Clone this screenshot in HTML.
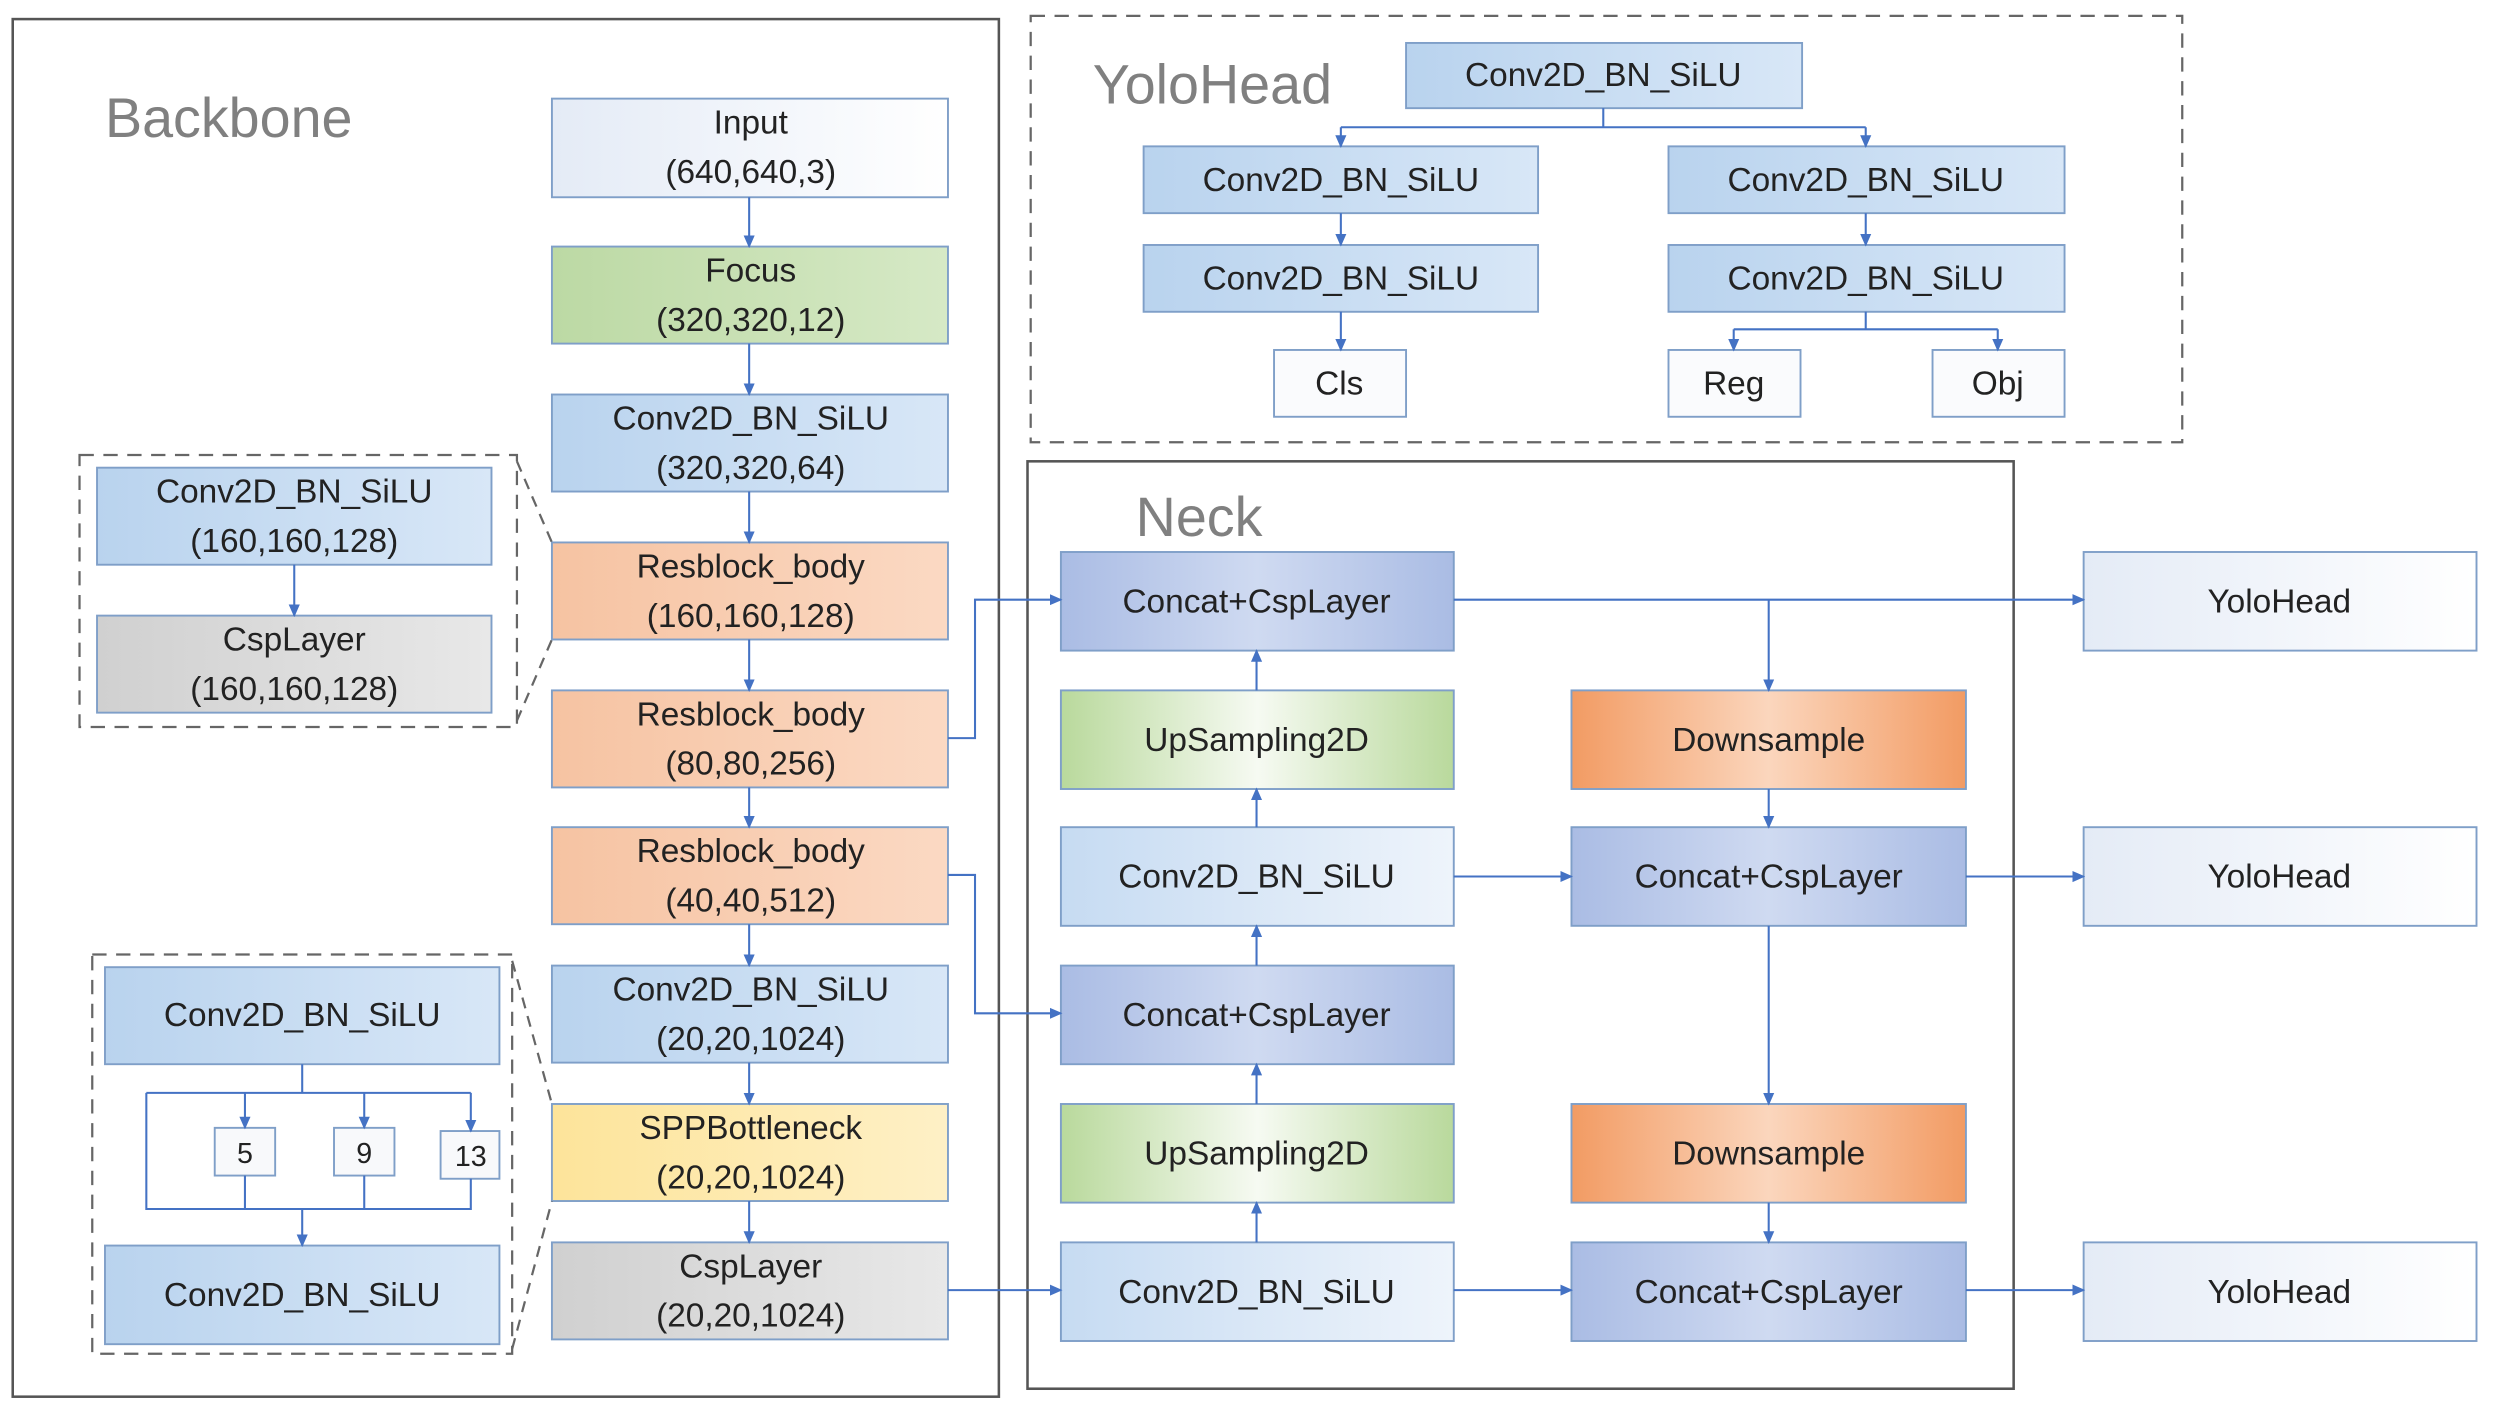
<!DOCTYPE html>
<html><head><meta charset="utf-8"><style>
html,body{margin:0;padding:0;background:#fff;}
svg{display:block;}
text{font-family:"Liberation Sans",sans-serif;fill:#222;}
</style></head><body>
<svg width="2494" height="1411" viewBox="0 0 1568 887" preserveAspectRatio="none" xmlns="http://www.w3.org/2000/svg">
<defs>
<linearGradient id="gb" x1="0" y1="0" x2="1" y2="0"><stop offset="0" stop-color="#b9d3ee"/><stop offset="1" stop-color="#d8e7f7"/></linearGradient>
<linearGradient id="gbn" x1="0" y1="0" x2="1" y2="0"><stop offset="0" stop-color="#c6dbf2"/><stop offset="1" stop-color="#eef4fb"/></linearGradient>
<linearGradient id="gg" x1="0" y1="0" x2="1" y2="0"><stop offset="0" stop-color="#bcd9a4"/><stop offset="1" stop-color="#d6e9c6"/></linearGradient>
<linearGradient id="gg2" x1="0" y1="0" x2="1" y2="0"><stop offset="0" stop-color="#b9d99c"/><stop offset="0.5" stop-color="#f6faf2"/><stop offset="1" stop-color="#b9d99c"/></linearGradient>
<linearGradient id="go" x1="0" y1="0" x2="1" y2="0"><stop offset="0" stop-color="#f6c3a2"/><stop offset="1" stop-color="#fbd9c3"/></linearGradient>
<linearGradient id="go2" x1="0" y1="0" x2="1" y2="0"><stop offset="0" stop-color="#f29b63"/><stop offset="0.5" stop-color="#fbd6bd"/><stop offset="1" stop-color="#f29b63"/></linearGradient>
<linearGradient id="gy" x1="0" y1="0" x2="1" y2="0"><stop offset="0" stop-color="#fde49a"/><stop offset="1" stop-color="#fef0c6"/></linearGradient>
<linearGradient id="gr" x1="0" y1="0" x2="1" y2="0"><stop offset="0" stop-color="#d0d0d0"/><stop offset="1" stop-color="#e8e8e8"/></linearGradient>
<linearGradient id="gp" x1="0" y1="0" x2="1" y2="0"><stop offset="0" stop-color="#aabce4"/><stop offset="0.5" stop-color="#cfdaf1"/><stop offset="1" stop-color="#aabce4"/></linearGradient>
<linearGradient id="gw" x1="0" y1="0" x2="1" y2="0"><stop offset="0" stop-color="#e4ebf6"/><stop offset="1" stop-color="#ffffff"/></linearGradient>
<marker id="a" markerWidth="8" markerHeight="8" refX="7" refY="4" orient="auto" markerUnits="userSpaceOnUse"><path d="M0,0.5 L8,4 L0,7.5z" fill="#4472c4"/></marker>
</defs>

<!-- containers -->
<rect x="8" y="12" width="620" height="866" fill="none" stroke="#555" stroke-width="1.6"/>
<rect x="648" y="10" width="724" height="268" fill="none" stroke="#666" stroke-width="1.4" stroke-dasharray="9,6"/>
<rect x="646" y="290" width="620" height="583" fill="none" stroke="#555" stroke-width="1.6"/>
<text x="66" y="86" font-size="35" style="fill:#808080">Backbone</text>
<text x="687" y="65" font-size="35" style="fill:#808080">YoloHead</text>
<text x="714" y="337" font-size="35" style="fill:#808080">Neck</text>

<g stroke="#7f9fc8" stroke-width="1.2">
<rect x="347" y="62" width="249" height="62" fill="url(#gw)"/>
<rect x="347" y="155" width="249" height="61" fill="url(#gg)"/>
<rect x="347" y="248" width="249" height="61" fill="url(#gb)"/>
<rect x="347" y="341" width="249" height="61" fill="url(#go)"/>
<rect x="347" y="434" width="249" height="61" fill="url(#go)"/>
<rect x="347" y="520" width="249" height="61" fill="url(#go)"/>
<rect x="347" y="607" width="249" height="61" fill="url(#gb)"/>
<rect x="347" y="694" width="249" height="61" fill="url(#gy)"/>
<rect x="347" y="781" width="249" height="61" fill="url(#gr)"/>

<rect x="61" y="294" width="248" height="61" fill="url(#gb)"/>
<rect x="61" y="387" width="248" height="61" fill="url(#gr)"/>
<rect x="66" y="608" width="248" height="61" fill="url(#gb)"/>
<rect x="66" y="783" width="248" height="62" fill="url(#gb)"/>
<rect x="135" y="709" width="38" height="30" fill="#f8f9fb"/>
<rect x="210" y="709" width="38" height="30" fill="#f8f9fb"/>
<rect x="277" y="711" width="37" height="30" fill="#f8f9fb"/>

<rect x="884" y="27" width="249" height="41" fill="url(#gb)"/>
<rect x="719" y="92" width="248" height="42" fill="url(#gb)"/>
<rect x="719" y="154" width="248" height="42" fill="url(#gb)"/>
<rect x="801" y="220" width="83" height="42" fill="#fafbfd"/>
<rect x="1049" y="92" width="249" height="42" fill="url(#gb)"/>
<rect x="1049" y="154" width="249" height="42" fill="url(#gb)"/>
<rect x="1049" y="220" width="83" height="42" fill="#fafbfd"/>
<rect x="1215" y="220" width="83" height="42" fill="#fafbfd"/>

<rect x="667" y="347" width="247" height="62" fill="url(#gp)"/>
<rect x="667" y="434" width="247" height="62" fill="url(#gg2)"/>
<rect x="667" y="520" width="247" height="62" fill="url(#gbn)"/>
<rect x="667" y="607" width="247" height="62" fill="url(#gp)"/>
<rect x="667" y="694" width="247" height="62" fill="url(#gg2)"/>
<rect x="667" y="781" width="247" height="62" fill="url(#gbn)"/>
<rect x="988" y="434" width="248" height="62" fill="url(#go2)"/>
<rect x="988" y="520" width="248" height="62" fill="url(#gp)"/>
<rect x="988" y="694" width="248" height="62" fill="url(#go2)"/>
<rect x="988" y="781" width="248" height="62" fill="url(#gp)"/>
<rect x="1310" y="347" width="247" height="62" fill="url(#gw)"/>
<rect x="1310" y="520" width="247" height="62" fill="url(#gw)"/>
<rect x="1310" y="781" width="247" height="62" fill="url(#gw)"/>
</g>

<!-- dashed detail boxes -->
<g fill="none" stroke="#666" stroke-width="1.4" stroke-dasharray="9,6">
<rect x="50" y="286" width="275" height="171"/>
<rect x="58" y="600" width="264" height="251"/>
<path d="M325,290 L347,341 M325,453 L347,402 M322,604 L347,694 M322,848 L347,755" stroke-dasharray="7,5"/>
</g>

<!-- connectors -->
<g fill="none" stroke="#4472c4" stroke-width="1.3">
<path d="M471,124V155" marker-end="url(#a)"/>
<path d="M471,216V248" marker-end="url(#a)"/>
<path d="M471,309V341" marker-end="url(#a)"/>
<path d="M471,402V434" marker-end="url(#a)"/>
<path d="M471,495V520" marker-end="url(#a)"/>
<path d="M471,581V607" marker-end="url(#a)"/>
<path d="M471,668V694" marker-end="url(#a)"/>
<path d="M471,755V781" marker-end="url(#a)"/>
<path d="M185,355V387" marker-end="url(#a)"/>
<path d="M190,669V687 M92,687H296 M92,687V760H296V741 M154,739V760 M229,739V760"/>
<path d="M154,687V709" marker-end="url(#a)"/>
<path d="M229,687V709" marker-end="url(#a)"/>
<path d="M296,687V711" marker-end="url(#a)"/>
<path d="M190,760V783" marker-end="url(#a)"/>

<path d="M1008,68V80 M843,80H1173"/>
<path d="M843,80V92" marker-end="url(#a)"/>
<path d="M1173,80V92" marker-end="url(#a)"/>
<path d="M843,134V154" marker-end="url(#a)"/>
<path d="M1173,134V154" marker-end="url(#a)"/>
<path d="M843,196V220" marker-end="url(#a)"/>
<path d="M1173,196V207 M1090,207H1256"/>
<path d="M1090,207V220" marker-end="url(#a)"/>
<path d="M1256,207V220" marker-end="url(#a)"/>

<path d="M596,464H613V377H667" marker-end="url(#a)"/>
<path d="M596,550H613V637H667" marker-end="url(#a)"/>
<path d="M596,811H667" marker-end="url(#a)"/>
<path d="M914,377H1310" marker-end="url(#a)"/>
<path d="M1112,377V434" marker-end="url(#a)"/>
<path d="M790,434V409" marker-end="url(#a)"/>
<path d="M790,520V496" marker-end="url(#a)"/>
<path d="M790,607V582" marker-end="url(#a)"/>
<path d="M790,694V669" marker-end="url(#a)"/>
<path d="M790,781V756" marker-end="url(#a)"/>
<path d="M914,551H988" marker-end="url(#a)"/>
<path d="M1112,496V520" marker-end="url(#a)"/>
<path d="M1236,551H1310" marker-end="url(#a)"/>
<path d="M1112,582V694" marker-end="url(#a)"/>
<path d="M1112,756V781" marker-end="url(#a)"/>
<path d="M914,811H988" marker-end="url(#a)"/>
<path d="M1236,811H1310" marker-end="url(#a)"/>
</g>

<g font-size="21" text-anchor="middle">
<text x="472" y="84">Input</text><text x="472" y="115">(640,640,3)</text>
<text x="472" y="177">Focus</text><text x="472" y="208">(320,320,12)</text>
<text x="472" y="270">Conv2D_BN_SiLU</text><text x="472" y="301">(320,320,64)</text>
<text x="472" y="363">Resblock_body</text><text x="472" y="394">(160,160,128)</text>
<text x="472" y="456">Resblock_body</text><text x="472" y="487">(80,80,256)</text>
<text x="472" y="542">Resblock_body</text><text x="472" y="573">(40,40,512)</text>
<text x="472" y="629">Conv2D_BN_SiLU</text><text x="472" y="660">(20,20,1024)</text>
<text x="472" y="716">SPPBottleneck</text><text x="472" y="747">(20,20,1024)</text>
<text x="472" y="803">CspLayer</text><text x="472" y="834">(20,20,1024)</text>
<text x="185" y="316">Conv2D_BN_SiLU</text><text x="185" y="347">(160,160,128)</text>
<text x="185" y="409">CspLayer</text><text x="185" y="440">(160,160,128)</text>
<text x="190" y="645">Conv2D_BN_SiLU</text>
<text x="190" y="821">Conv2D_BN_SiLU</text>
<text x="154" y="731" font-size="18">5</text>
<text x="229" y="731" font-size="18">9</text>
<text x="296" y="733" font-size="18">13</text>
<text x="1008" y="54">Conv2D_BN_SiLU</text>
<text x="843" y="120">Conv2D_BN_SiLU</text>
<text x="843" y="182">Conv2D_BN_SiLU</text>
<text x="1173" y="120">Conv2D_BN_SiLU</text>
<text x="1173" y="182">Conv2D_BN_SiLU</text>
<text x="842" y="248">Cls</text>
<text x="1090" y="248">Reg</text>
<text x="1256" y="248">Obj</text>
<text x="790" y="385">Concat+CspLayer</text>
<text x="790" y="472">UpSampling2D</text>
<text x="790" y="558">Conv2D_BN_SiLU</text>
<text x="790" y="645">Concat+CspLayer</text>
<text x="790" y="732">UpSampling2D</text>
<text x="790" y="819">Conv2D_BN_SiLU</text>
<text x="1112" y="472">Downsample</text>
<text x="1112" y="558">Concat+CspLayer</text>
<text x="1112" y="732">Downsample</text>
<text x="1112" y="819">Concat+CspLayer</text>
<text x="1433" y="385">YoloHead</text>
<text x="1433" y="558">YoloHead</text>
<text x="1433" y="819">YoloHead</text>
</g>
</svg>
</body></html>
